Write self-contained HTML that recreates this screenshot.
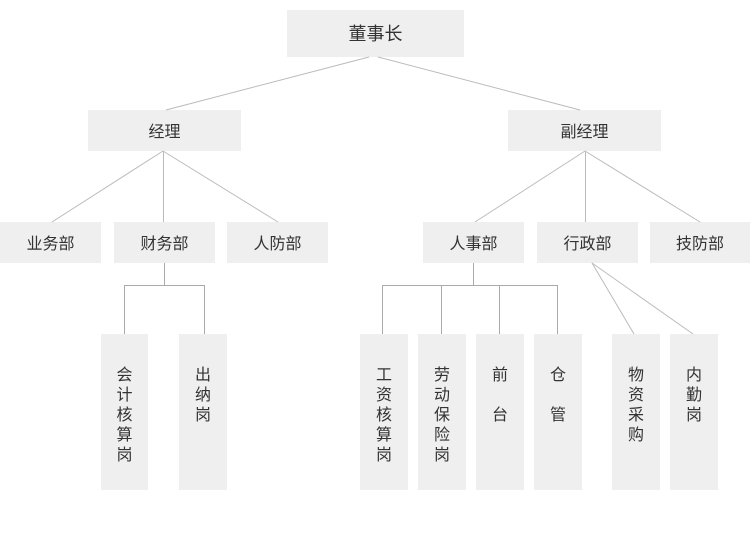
<!DOCTYPE html>
<html><head><meta charset="utf-8"><style>
html,body{margin:0;padding:0;background:#fff;}
svg{display:block;}
text{font-family:"Liberation Sans","Noto Sans CJK SC",sans-serif;fill:#333;}
</style></head><body>
<svg width="750" height="550" viewBox="0 0 750 550" xmlns="http://www.w3.org/2000/svg">
<g fill="#efefef">
<rect x="287" y="10" width="177" height="47"/>
<rect x="88" y="110" width="153" height="41"/>
<rect x="508" y="110" width="153" height="41"/>
<rect x="0" y="222" width="101" height="41"/>
<rect x="114" y="222" width="101" height="41"/>
<rect x="227" y="222" width="101" height="41"/>
<rect x="423" y="222" width="101" height="41"/>
<rect x="537" y="222" width="101" height="41"/>
<rect x="650" y="222" width="100" height="41"/>
<rect x="101" y="334" width="47" height="156"/>
<rect x="179" y="334" width="48" height="156"/>
<rect x="360" y="334" width="48" height="156"/>
<rect x="418" y="334" width="48" height="156"/>
<rect x="476" y="334" width="48" height="156"/>
<rect x="534" y="334" width="48" height="156"/>
<rect x="612" y="334" width="48" height="156"/>
<rect x="670" y="334" width="48" height="156"/>
</g>
<g stroke="#bbb" stroke-width="1" fill="none">
<line x1="369" y1="57" x2="166" y2="110"/>
<line x1="378" y1="57" x2="580" y2="110"/>
<line x1="163" y1="151" x2="52" y2="222"/>
<line x1="163.5" y1="151" x2="163.5" y2="222"/>
<line x1="163" y1="151" x2="278" y2="222"/>
<line x1="585" y1="151" x2="475" y2="222"/>
<line x1="585.5" y1="151" x2="585.5" y2="222"/>
<line x1="585" y1="151" x2="700" y2="222"/>
<line x1="592" y1="263" x2="634" y2="334"/>
<line x1="592" y1="263" x2="693" y2="334"/>
</g>
<g stroke="#aaa" stroke-width="1" fill="none">
<path d="M164.5 263V285.5M124.5 334V285.5H204.5V334"/>
<path d="M473.5 263V285.5M382.5 334V285.5H557.5V334M441.5 285.5V334M499.5 285.5V334"/>
</g>
<g text-anchor="middle" font-size="16">
<text x="375.5" y="40" font-size="18">董事长</text>
<text x="164.5" y="137">经理</text>
<text x="584.5" y="137">副经理</text>
<text x="50.5" y="249">业务部</text>
<text x="164.5" y="249">财务部</text>
<text x="277.5" y="249">人防部</text>
<text x="473.5" y="249">人事部</text>
<text x="587.5" y="249">行政部</text>
<text x="700" y="249">技防部</text>
</g>
<g text-anchor="middle" font-size="16">
<text x="124.5" y="380">会</text><text x="124.5" y="400">计</text><text x="124.5" y="420">核</text><text x="124.5" y="440">算</text><text x="124.5" y="460">岗</text>
<text x="203" y="380">出</text><text x="203" y="400">纳</text><text x="203" y="420">岗</text>
<text x="384" y="380">工</text><text x="384" y="400">资</text><text x="384" y="420">核</text><text x="384" y="440">算</text><text x="384" y="460">岗</text>
<text x="442" y="380">劳</text><text x="442" y="400">动</text><text x="442" y="420">保</text><text x="442" y="440">险</text><text x="442" y="460">岗</text>
<text x="500" y="380">前</text><text x="500" y="420">台</text>
<text x="558" y="380">仓</text><text x="558" y="420">管</text>
<text x="636" y="380">物</text><text x="636" y="400">资</text><text x="636" y="420">采</text><text x="636" y="440">购</text>
<text x="694" y="380">内</text><text x="694" y="400">勤</text><text x="694" y="420">岗</text>
</g>
</svg>
</body></html>
